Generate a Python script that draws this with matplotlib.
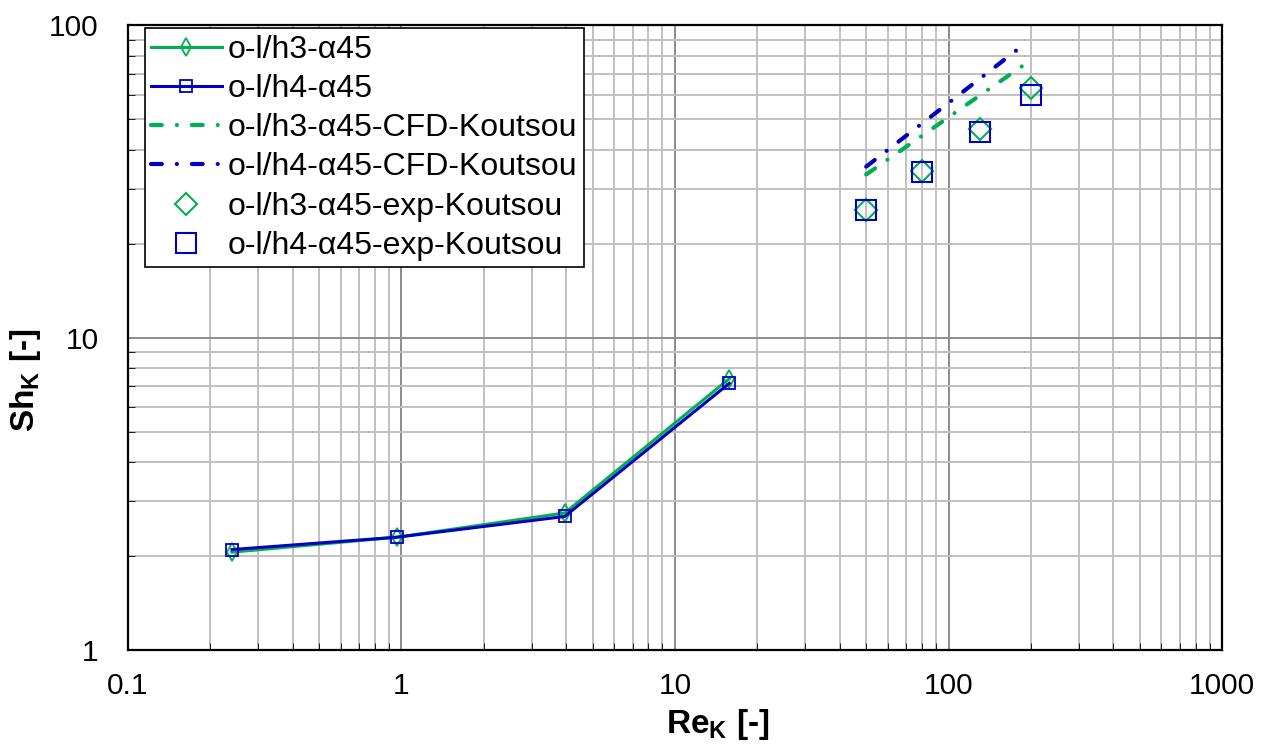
import numpy as np
import matplotlib
matplotlib.use('Agg')
import matplotlib.pyplot as plt
from matplotlib.ticker import LogLocator, FixedLocator, NullFormatter

# data
re_sim = [0.24, 0.96, 3.95, 15.8]
sh_h3 = [2.06, 2.30, 2.75, 7.40]
sh_h4 = [2.10, 2.30, 2.68, 7.15]

re_cfd_h3 = [50, 80, 130, 190]
sh_cfd_h3 = [33.3, 44.3, 59.6, 75.0]
re_cfd_h4 = [50, 80, 130, 183]
sh_cfd_h4 = [35.3, 48.5, 67.4, 85.0]

re_exp = [50, 80, 130, 200]
sh_exp_h3 = [25.7, 34.2, 46.5, 62.8]
sh_exp_h4 = [25.7, 34.0, 45.7, 59.7]

green = '#00b050'
blue = '#0000c0'

plt.rcParams['font.family'] = ['Liberation Sans', 'DejaVu Sans']
plt.rcParams['mathtext.fontset'] = 'custom'
plt.rcParams['mathtext.rm'] = 'Liberation Sans'
plt.rcParams['mathtext.bf'] = 'Liberation Sans:bold'

fig = plt.figure(figsize=(12.67, 7.44), dpi=100)
ax = fig.add_axes([0.101, 0.126, 0.8635, 0.84])

dash = (2.6, 3.6, 0.01, 3.6)
ax.plot(re_sim, sh_h3, color=green, lw=2.2, marker='d', ms=9, mfc='none', mew=1.3,
        label='o-l/h3-α45', zorder=4)
ax.plot(re_sim, sh_h4, color=blue, lw=2.2, marker='s', ms=9, mfc='none', mew=1.3,
        label='o-l/h4-α45', zorder=5)
ax.plot(re_cfd_h3, sh_cfd_h3, color=green, lw=3, dashes=dash,
        label='o-l/h3-α45-CFD-Koutsou', dash_capstyle='round', zorder=3)
ax.plot(re_cfd_h4, sh_cfd_h4, color=blue, lw=3, dashes=dash,
        label='o-l/h4-α45-CFD-Koutsou', dash_capstyle='round', zorder=3)
ax.plot(re_exp, sh_exp_h3, ls='none', marker='D', ms=11, mfc='none', mec=green, mew=1.5,
        label='o-l/h3-α45-exp-Koutsou', zorder=4)
ax.plot(re_exp, sh_exp_h4, ls='none', marker='s', ms=14, mfc='none', mec=blue, mew=1.5,
        label='o-l/h4-α45-exp-Koutsou', zorder=5)

ax.set_xscale('log')
ax.set_yscale('log')
ax.set_xlim(0.1, 1000)
ax.set_ylim(1, 100)
ax.xaxis.set_major_locator(FixedLocator([0.1, 1, 10, 100, 1000]))
ax.yaxis.set_major_locator(FixedLocator([1, 10, 100]))
ax.set_xticklabels(['0.1', '1', '10', '100', '1000'])
ax.set_yticklabels(['1', '10', '100'])
ax.xaxis.set_minor_locator(LogLocator(base=10, subs=np.arange(2, 10)))
ax.yaxis.set_minor_locator(LogLocator(base=10, subs=np.arange(2, 10)))
ax.xaxis.set_minor_formatter(NullFormatter())
ax.yaxis.set_minor_formatter(NullFormatter())

ax.grid(which='major', color='#8c8c8c', lw=1.4)
ax.grid(which='minor', color='#c0c0c0', lw=1.4)
ax.set_axisbelow(True)
ax.tick_params(which='both', direction='in', labelsize=21.5)
ax.tick_params(axis='x', pad=16)
ax.tick_params(axis='y', pad=21)
ax.tick_params(which='major', length=0)
ax.tick_params(which='minor', length=5)
for s in ax.spines.values():
    s.set_linewidth(1.6)

ax.set_xlabel(r'$\mathbf{Re_K}$ [-]', fontsize=24, fontweight='bold')
ax.set_ylabel(r'$\mathbf{Sh_K}$ [-]', fontsize=24, fontweight='bold')
ax.xaxis.set_label_coords(0.539, -0.09)
ax.yaxis.set_label_coords(-0.078, 0.432)

leg = ax.legend(loc='upper left', bbox_to_anchor=(0.0155, 0.9952), borderaxespad=0,
                fontsize=23, frameon=True, fancybox=False, edgecolor='black', framealpha=1,
                handlelength=2.2, labelspacing=0.29, borderpad=0.2, handletextpad=0.2)
leg.get_frame().set_linewidth(1.2)

fig.savefig('out.png', dpi=100)
